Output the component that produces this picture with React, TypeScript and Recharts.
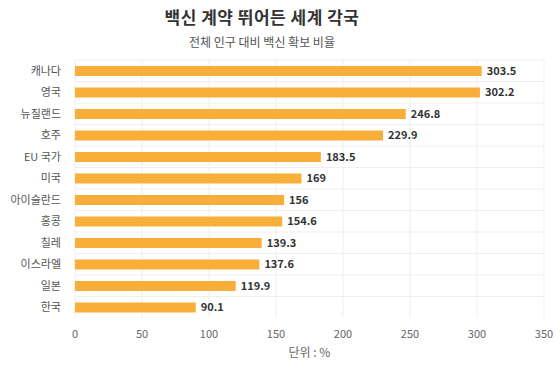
import { BarChart, Bar, XAxis, YAxis, CartesianGrid, LabelList, Label } from "recharts";

const countries = ["캐나다", "영국", "뉴질랜드", "호주", "EU 국가", "미국", "아이슬란드", "홍콩", "칠레", "이스라엘", "일본", "한국"];
const ratios = [303.5, 302.2, 246.8, 229.9, 183.5, 169, 156, 154.6, 139.3, 137.6, 119.9, 90.1];
const xTicks = [0, 50, 100, 150, 200, 250, 300, 350];

const data = countries.map((name, i) => ({ name, value: ratios[i] }));

const FONT = "'Noto Sans CJK KR', 'Noto Sans', sans-serif";

export default function App() {
  return (
    <div style={{ position: "absolute", left: 0, top: 0, width: 560, height: 373, background: "#fff", fontFamily: FONT }}>
      <div style={{ position: "absolute", top: 4, left: 0, width: 524, textAlign: "center", fontSize: 17, fontWeight: 700, color: "#333", letterSpacing: 0.5 }}>
        백신 계약 뛰어든 세계 각국
      </div>
      <div style={{ position: "absolute", top: 33, left: 0, width: 524, textAlign: "center", fontSize: 12, color: "#555" }}>
        전체 인구 대비 백신 확보 비율
      </div>
      <BarChart
        width={560}
        height={373}
        data={data}
        layout="vertical"
        margin={{ top: 60, right: 16, bottom: 0, left: 0 }}
      >
        <CartesianGrid
          stroke="#efefef"
          horizontalCoordinatesGenerator={({ offset }: any) =>
            countries.map((_, i) => offset.top + (offset.height / countries.length) * i)
          }
        />
        <XAxis
          type="number"
          domain={[0, 350]}
          ticks={xTicks}
          height={55}
          axisLine={false}
          tickLine={false}
          tickMargin={6}
          tick={{ fill: "#666", fontSize: 11, fontFamily: FONT }}
        >
          <Label value="단위 : %" position="insideBottom" offset={16} fill="#666" fontSize={12} fontFamily={FONT} />
        </XAxis>
        <YAxis
          type="category"
          dataKey="name"
          width={75}
          axisLine={false}
          tickLine={false}
          tickMargin={8}
          tick={{ fill: "#555", fontSize: 11, fontFamily: FONT }}
        />
        <Bar dataKey="value" fill="#F9AE3A" barSize={10} isAnimationActive={false}>
          <LabelList dataKey="value" position="right" offset={5} fill="#333" fontSize={11} fontWeight={600} fontFamily={FONT} />
        </Bar>
      </BarChart>
    </div>
  );
}
